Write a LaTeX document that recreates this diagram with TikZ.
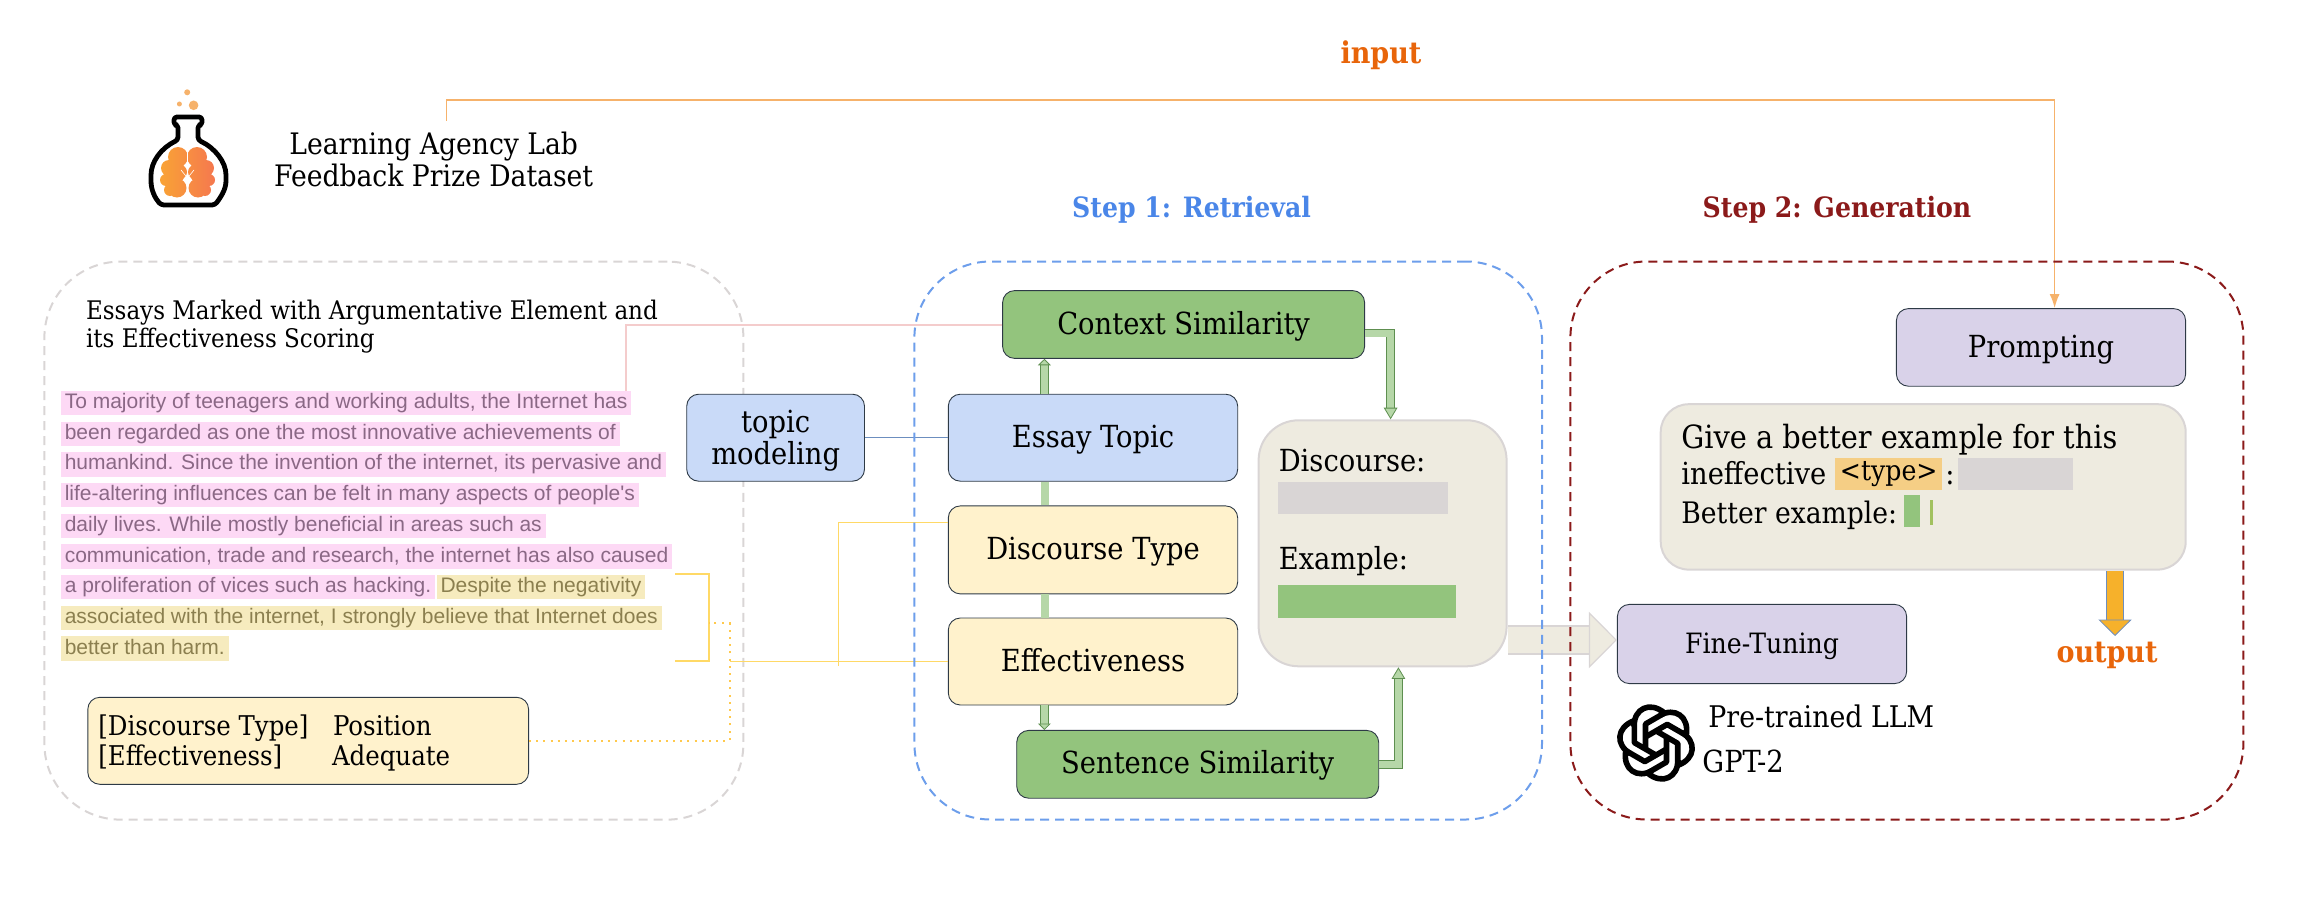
\documentclass[tikz,border=0pt]{standalone}
\usepackage{fontspec}
\usepackage{xcolor}
\usepackage{tikz}
\usetikzlibrary{arrows.meta,positioning}
\setmainfont{DejaVu Serif Condensed}
\newfontfamily\essayfont{Liberation Sans}
\definecolor{greenbox}{HTML}{93C47D}
\definecolor{bluebox}{HTML}{C9DAF8}
\definecolor{yellowbox}{HTML}{FFF2CC}
\definecolor{lilacbox}{HTML}{D9D2E9}
\definecolor{beigebox}{HTML}{EEEBE0}
\definecolor{greybar}{HTML}{D9D5D5}
\definecolor{boxline}{HTML}{2E3A46}
\definecolor{stepblue}{HTML}{4A86E8}
\definecolor{dashblue}{HTML}{6D9EEB}
\definecolor{stepred}{HTML}{8B1A1A}
\definecolor{ioorange}{HTML}{E8650A}
\definecolor{inputline}{HTML}{F6B26B}
\definecolor{pinkline}{HTML}{F4CCCC}
\definecolor{yellline}{HTML}{FFD966}
\definecolor{dotline}{HTML}{FFC94D}
\definecolor{topicline}{HTML}{6C8EBF}
\definecolor{pinkmark}{HTML}{FDD9F5}
\definecolor{pinktext}{HTML}{8A6885}
\definecolor{yellmark}{HTML}{F6EBBE}
\definecolor{yelltext}{HTML}{8B7F4F}
\definecolor{fatfill}{HTML}{B6D7A8}
\definecolor{fatline}{HTML}{5E8F50}
\definecolor{goldfill}{HTML}{F6B12B}
\definecolor{typetag}{HTML}{F5CE85}
\definecolor{cursorline}{HTML}{A2C15F}
\definecolor{brainleft}{HTML}{F9A335}
\definecolor{brainright}{HTML}{F5784F}

\begin{document}
\begin{tikzpicture}[
  x=0.5pt, y=-0.5pt,
  serif/.style={font=\fontsize{15.2}{16}\selectfont},
  plainbox/.style={draw=boxline, line width=0.45pt, rounded corners=6pt, align=center, inner sep=2pt, serif},
  box/.style={plainbox, text height=11pt, text depth=1.4pt},
  panel/.style={rounded corners=38pt, line width=1pt, dash pattern=on 4.5pt off 3pt, minimum width=#1},
  textlabel/.style={anchor=base west, inner sep=0pt, serif},
  tagtext/.style={textlabel, font=\fontsize{13.6}{16}\selectfont},
  headline/.style={inner sep=0pt, font=\fontsize{14}{16}\selectfont\bfseries},
  ioline/.style={inner sep=0pt, text=ioorange, font=\fontsize{15}{16}\selectfont\bfseries},
  barbox/.style={inner sep=0pt, fill=#1},
  essaytext/.style={inner xsep=1.9pt, inner ysep=0.85pt, outer sep=0pt, text height=8pt, text depth=2.5pt,
    font=\fontsize{10.5}{11}\essayfont},
  pinkrow/.style={essaytext, fill=pinkmark, text=pinktext},
  yellrow/.style={essaytext, fill=yellmark, text=yelltext},
  fatarr/.style={draw=fatline, line width=0.4pt, double=fatfill, double distance=3.4pt,
    -{Triangle[length=5.8pt, width=6.8pt, fill=fatfill, color=fatline]}},
  smallarr/.style={fatarr, -{Triangle[length=3.2pt, width=6.4pt, fill=fatfill, color=fatline]}},
  fatlink/.style={draw=fatfill, line width=0.4pt, double=fatfill, double distance=3.4pt}
]
\useasboundingbox (0,0) rectangle (2301,904);

% left panel sits under the topic box
\node[panel=349.5pt, draw=greybar, minimum height=279pt] (essays) at (393.9,540.6) {};

% logo
\draw[line width=2.4pt, line join=round, rounded corners=1.5pt] (178,125) -- (174,125) -- (174,117) -- (202,117) -- (202,125) -- (198,125)
  -- (198,140) .. controls (215,148) and (226,162) .. (226,178) .. controls (226,190) and (220,198) .. (215,205)
  -- (161,205) .. controls (155,198) and (151,190) .. (151,178) .. controls (151,162) and (161,148) .. (178,140) -- cycle;
\path[left color=brainleft, right color=brainright]
  (178,157) circle [radius=10] (169,168) circle [radius=8] (166,180) circle [radius=6] (175,172) circle [radius=11]
  (170,190) circle [radius=6] (177,188) circle [radius=9.5] (180,172) circle [radius=7]
  (197,157) circle [radius=10] (206,168) circle [radius=8] (209,180) circle [radius=6] (200,172) circle [radius=11]
  (205,190) circle [radius=6] (198,188) circle [radius=9.5] (195,172) circle [radius=7];
\draw[white, line width=0.8pt] (187.5,146) -- (187.5,199);
\draw[white, line width=0.3pt] (187.5,178) -- (181,170) (187.5,178) -- (194,170);
\fill[inputline] (187.2,92.3) circle [radius=3] (179.4,104) circle [radius=2.5] (193.6,105.3) circle [radius=4.8];

\node[inner sep=0pt, align=center, font=\fontsize{14.8}{16}\selectfont] (dataset) at (433.7,159) {Learning Agency Lab\\Feedback Prize Dataset};
\node[ioline] (input) at (1381,55.5) {input};
\node[headline, text=stepblue] (step1) at (1191.6,209.5) {Step 1: Retrieval};
\node[headline, text=stepred] (step2) at (1837,209.5) {Step 2: Generation};

% essay panel
\node[textlabel, font=\fontsize{12.8}{14}\selectfont] (essayhead) at (85.7,319.3) {Essays Marked with Argumentative Element and};
\node[textlabel, font=\fontsize{12.8}{14}\selectfont] (essayhead2) at (85.7,347.3) {its Effectiveness Scoring};
\begin{scope}[node distance=3.15pt]
\node[pinkrow, anchor=west] (linea) at (61,403) {To majority of teenagers and working adults, the Internet has};
\node[pinkrow, below=of linea.south west, anchor=north west] (lineb) {been regarded as one the most innovative achievements of};
\node[pinkrow, below=of lineb.south west, anchor=north west] (linec) {humankind. Since the invention of the internet, its pervasive and};
\node[pinkrow, below=of linec.south west, anchor=north west] (lined) {life-altering influences can be felt in many aspects of people's};
\node[pinkrow, below=of lined.south west, anchor=north west] (linee) {daily lives. While mostly beneficial in areas such as};
\node[pinkrow, below=of linee.south west, anchor=north west] (linef) {communication, trade and research, the internet has also caused};
\node[pinkrow, below=of linef.south west, anchor=north west] (lineg) {a proliferation of vices such as hacking.};
\node[yellrow, right=0.8pt of lineg] (lineh) {Despite the negativity};
\node[yellrow, below=of lineg.south west, anchor=north west] (linei) {associated with the internet, I strongly believe that Internet does};
\node[yellrow, below=of linei.south west, anchor=north west] (linej) {better than harm.};
\end{scope}
\node[box, fill=yellowbox, minimum width=220.4pt, minimum height=43.5pt, inner sep=0pt] (tagbox) at (308.2,740.8) {};
\node[tagtext] (tagtype) at (98,735.3) {[Discourse Type]};
\node[tagtext] (tagvalue) at (332.7,735.3) {Position};
\node[tagtext] (tageff) at (98,765.5) {[Effectiveness]};
\node[tagtext] (tagadeq) at (331.6,765.5) {Adequate};

% retrieval boxes
\node[box, fill=greenbox, minimum width=181pt, minimum height=33.9pt] (context) at (1183.6,324.5) {Context Similarity};
\node[box, fill=bluebox, minimum width=144.7pt, minimum height=43.5pt] (topic) at (1093,437.7) {Essay Topic};
\node[plainbox, fill=bluebox, text depth=0pt, minimum width=88.9pt, minimum height=43.5pt] (modeling) at (775.6,437.7) {topic\\modeling};
\node[box, fill=yellowbox, minimum width=144.7pt, minimum height=44pt, below=11.9pt of topic] (dtype) {Discourse Type};
\node[box, fill=yellowbox, minimum width=144.7pt, minimum height=43.5pt, below=11.6pt of dtype] (effect) {Effectiveness};
\node[box, fill=greenbox, minimum width=181pt, minimum height=33.9pt] (sentence) at (1197.7,764.3) {Sentence Similarity};
\node[box, draw=greybar, line width=1pt, fill=beigebox, rounded corners=20pt, minimum width=124pt, minimum height=123pt] (retrieved) at (1382.6,543.3) {};
\node[textlabel] (discourse) at (1278.4,471) {Discourse:};
\node[barbox=greybar, anchor=north west, minimum width=85.2pt, minimum height=16pt] (discbar) at (1277.5,481.5) {};
\node[textlabel] (example) at (1278.4,569) {Example:};
\node[barbox=greenbox, anchor=north west, minimum width=89pt, minimum height=16.2pt] (exbar) at (1277.5,585) {};

% generation boxes
\node[box, fill=lilacbox, minimum width=144.6pt, minimum height=38.8pt] (prompting) at (2041,347.4) {Prompting};
\node[box, draw=greybar, line width=1pt, fill=beigebox, rounded corners=14pt, minimum width=262.5pt, minimum height=82.7pt] (promptbox) at (1923.2,486.9) {};
\node[textlabel, font=\fontsize{16}{16}\selectfont] (promptone) at (1681,448) {Give a better example for this};
\node[textlabel] (prompttwo) at (1681,484.5) {ineffective};
\node[barbox=typetag, minimum width=53.6pt, minimum height=16pt, font=\fontsize{14}{16}\selectfont] (typetag) at (1888.7,473.9) {<type>};
\node[textlabel] (colon) at (1945,484.5) {:};
\node[barbox=greybar, minimum width=57.6pt, minimum height=16pt] (typebar) at (2015.3,473.9) {};
\node[textlabel, font=\fontsize{14.8}{16}\selectfont] (promptthree) at (1681,523) {Better example:};
\node[barbox=greenbox, minimum width=8pt, minimum height=15.9pt] (goodbar) at (1912,510.8) {};
\node[barbox=cursorline, minimum width=1.4pt, minimum height=12.4pt] (cursor) at (1931.5,512.4) {};
\node[box, fill=lilacbox, minimum width=144.6pt, minimum height=39.6pt, font=\fontsize{14}{16}\selectfont] (finetune) at (1762,644) {Fine-Tuning};
\node[ioline] (output) at (2107,655) {output};
\node[textlabel, font=\fontsize{14.9}{16}\selectfont] (pretrained) at (1708,727) {Pre-trained LLM};
\node[textlabel] (gpt) at (1702,772) {GPT-2};

% openai knot
\foreach \a in {0,60,...,300}
  \draw[line width=2.8pt, line join=round, rotate around={\a:(1656,743)}, shift={(1656,743)}]
    (-22,-17) .. controls (-22,-34) and (-6.5,-42.5) .. (8.5,-30) -- (-10.5,-19) -- (-10.5,5.3);

% connectors
\coordinate (pinkdrop) at (625.5,390.7);
\coordinate (bracktop) at (675,574);
\coordinate (brackbot) at (675,660.7);
\coordinate (brackmid) at (708.7,623.3);
\coordinate (dotcorner) at (729.6,623.3);
\coordinate (yellbranch) at (838.3,666.3);
\coordinate (inputstart) at (446.4,121);
\coordinate (inputturn) at (446.4,100);
\coordinate (goldend) at (2115,636);
\draw[pinkline, line width=1pt] (context.west) -| (pinkdrop);
\draw[topicline, line width=0.5pt] (modeling.east) -- (topic.west);
\draw[yellline, line width=1pt] (bracktop) -| (brackmid) |- (brackbot);
\draw[dotline, line width=1pt, dash pattern=on 1pt off 2.6pt] (tagbox.east) -| (dotcorner) -- (brackmid);
\draw[yellline, line width=0.6pt] (effect.west) -- (effect.west -| dotcorner);
\draw[yellline, line width=0.6pt] ([yshift=13.6pt]dtype.west) -| (yellbranch);
\draw[inputline, line width=0.8pt, -{Latex[length=7pt, width=5pt]}] (inputstart) -- (inputturn) -| (prompting.north -| 2054.6,0);
\draw[fatlink] ([xshift=-24pt]topic.south) -- ([xshift=-24pt]dtype.north);
\draw[fatlink] ([xshift=-24pt]dtype.south) -- ([xshift=-24pt]effect.north);
\draw[smallarr] ([xshift=-24.3pt]topic.north) -- ([xshift=-24.3pt]topic.north |- context.south);
\draw[smallarr] ([xshift=-24.3pt]effect.south) -- ([xshift=-24.3pt]effect.south |- sentence.north);
\draw[fatarr] ([yshift=-4.3pt]context.east) -| (retrieved.north -| 1390.6,0);
\draw[fatarr] (sentence.east) -| (retrieved.south -| 1398.4,0);
\draw[draw=greybar, line width=0.6pt, double=beigebox, double distance=13.4pt,
  -{Triangle[length=14pt, width=28pt, fill=beigebox, color=greybar]}] (retrieved.east |- 0,640) -- (finetune.west |- 0,640);
\draw[draw=topicline, line width=0.4pt, double=goldfill, double distance=8pt,
  -{Triangle[length=8.2pt, width=16.6pt, fill=goldfill, color=topicline]}] (goldend |- promptbox.south) -- (goldend);

% step panels
\node[panel=313.8pt, draw=dashblue, minimum height=279pt] (retrieval) at (1228.2,540.5) {};
\node[panel=336.5pt, draw=stepred, minimum height=279pt] (generation) at (1906.9,540.5) {};
\end{tikzpicture}
\end{document}
